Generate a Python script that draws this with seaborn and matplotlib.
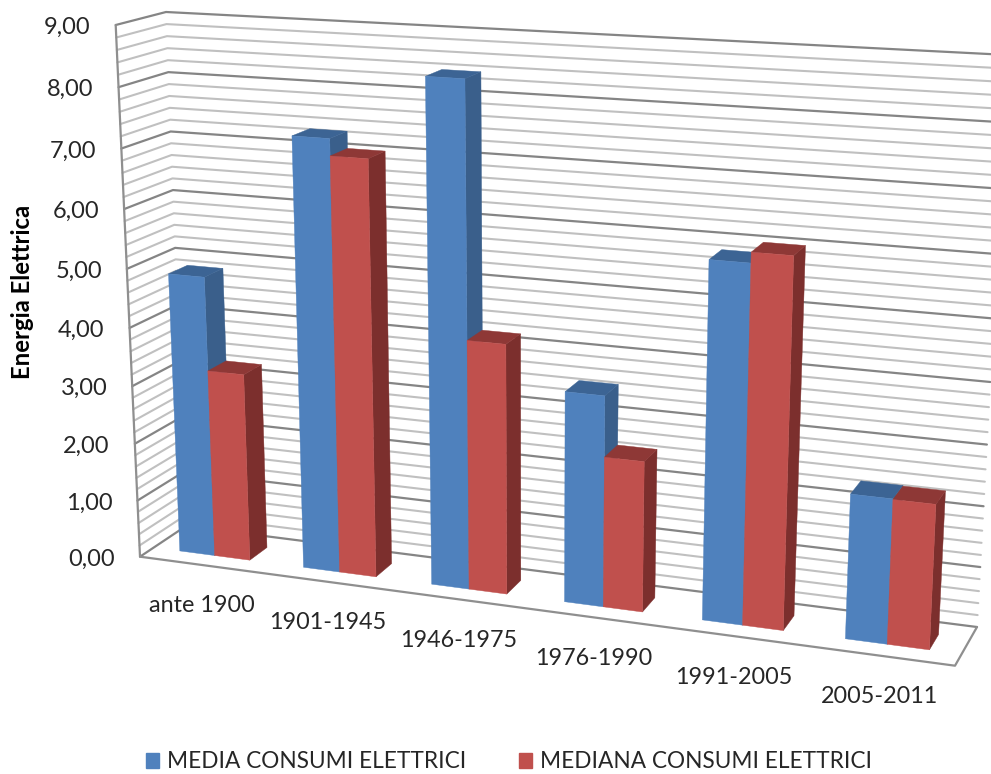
import numpy as np
import matplotlib
matplotlib.use("Agg")
import matplotlib.pyplot as plt
from matplotlib.patches import Patch
import seaborn as sns

categories = ["ante 1900", "1901-1945", "1946-1975", "1976-1990", "1991-2005", "2005-2011"]
media = [4.85, 7.31, 8.40, 3.53, 5.86, 2.37]
mediana = [3.25, 7.03, 4.21, 2.52, 6.03, 2.36]
series_names = ["MEDIA CONSUMI ELETTRICI", "MEDIANA CONSUMI ELETTRICI"]
ticks = [0, 1, 2, 3, 4, 5, 6, 7, 8, 9]
tick_labels = ["0,00", "1,00", "2,00", "3,00", "4,00", "5,00", "6,00", "7,00", "8,00", "9,00"]
ymax = 9.0

sns.set_theme(style="white")
plt.rcParams['font.family'] = ['Lato', 'DejaVu Sans']

# corners of the box in pixels: bottom-left, bottom-right, top-right, top-left
back_wall = [(186, 526), (977, 627), (1008, 55), (166, 12)]
front_plane = [(140, 556.7), (955, 665.7), (982, 76), (115.7, 25)]


def homography(corners):
    src = [(0, 0), (1, 0), (1, 1), (0, 1)]
    A, b = [], []
    for (u, v), (x, y) in zip(src, corners):
        A.append([u, v, 1, 0, 0, 0, -u * x, -v * x])
        A.append([0, 0, 0, u, v, 1, -u * y, -v * y])
        b += [x, y]
    return np.append(np.linalg.solve(np.array(A, float), np.array(b, float)), 1).reshape(3, 3)


H_back = homography(back_wall)
H_front = homography(front_plane)


def project(u, val, d):
    # u along categories 0-1, val in data units, d depth 0 front - 1 back
    p = np.array([u, val / ymax, 1.0])
    f = H_front @ p
    k = H_back @ p
    f = f[:2] / f[2]
    k = k[:2] / k[2]
    return f + (k - f) * d


fig, ax = plt.subplots(figsize=(9.91, 7.74), dpi=100)
fig.subplots_adjust(0, 0, 1, 1)
ax.set_xlim(0, 991)
ax.set_ylim(774, 0)
ax.axis("off")


def seg(points, color, lw):
    pts = np.array(points)
    sns.lineplot(x=pts[:, 0], y=pts[:, 1], ax=ax, color=color, linewidth=lw,
                 sort=False, estimator=None, errorbar=None, legend=False)


# gridlines on left wall and back wall, every 0.2
for i in range(46):
    v = i * 0.2
    major = i % 5 == 0
    seg([project(0, v, 0), project(0, v, 1), project(1, v, 1)],
        "#858585" if major else "#c0c0c0", 1.6 if major else 1.5)

# box outline
frame = "#8f8f8f"
seg([project(0, 9, 0), project(0, 0, 0), project(1, 0, 0), project(1, 0, 1)], frame, 1.6)


def face(points, color):
    pts = np.array(points)
    ax.fill(pts[:, 0], pts[:, 1], color=color, linewidth=0.3, zorder=5)


cat_w = 1 / len(categories)
bar_w = cat_w * 0.285
margin = cat_w * 0.215
d0, d1 = 0.3, 0.7
colors = [("#4F81BD", "#3A5F8B", "#3C6494"), ("#C0504D", "#7C2F2D", "#8E3836")]

for i in range(len(categories)):
    for j, val in enumerate([media[i], mediana[i]]):
        u0 = i * cat_w + margin + j * bar_w
        u1 = u0 + bar_w
        front_c, side_c, top_c = colors[j]
        face([project(u1, 0, d0), project(u1, 0, d1), project(u1, val, d1), project(u1, val, d0)], side_c)
        face([project(u0, val, d0), project(u1, val, d0), project(u1, val, d1), project(u0, val, d1)], top_c)
        face([project(u0, 0, d0), project(u1, 0, d0), project(u1, val, d0), project(u0, val, d0)], front_c)

# axis text
for t, lab in zip(ticks, tick_labels):
    x, y = project(0, t, 0)
    ax.text(x - 25, y + 2.5, lab, ha="right", va="center", fontsize=17, color="#262626")

for i, lab in enumerate(categories):
    x, y = project((i + 0.5) * cat_w, 0, 0)
    ax.text(x, y + 41, lab, ha="center", va="center", fontsize=16.8, color="#262626")

ax.text(23, 292, "Energia Elettrica", rotation=90, ha="center", va="center",
        fontsize=17.2, fontweight="bold", color="black")

handles = [Patch(color=colors[0][0], label=series_names[0]), Patch(color=colors[1][0], label=series_names[1])]
ax.legend(handles=handles, ncol=2, loc="center", bbox_to_anchor=(509, 762), bbox_transform=ax.transData,
          frameon=False, fontsize=16.3, handlelength=0.6, handleheight=0.6, handletextpad=0.35,
          columnspacing=2.3, labelcolor="#262626")

fig.savefig("out.png", dpi=100)
